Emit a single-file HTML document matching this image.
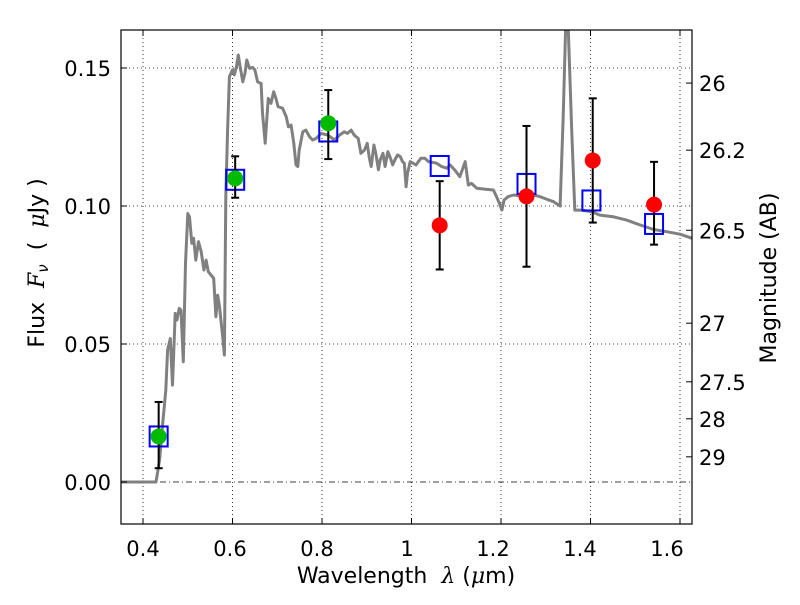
<!DOCTYPE html>
<html><head><meta charset="utf-8"><style>
body{margin:0;background:#fff;width:800px;height:600px;overflow:hidden}
text{font-family:"DejaVu Sans","Liberation Sans",sans-serif;fill:#000}
</style></head><body>
<svg id="chart" width="800" height="600" xmlns="http://www.w3.org/2000/svg">
<defs><clipPath id="clip"><rect x="121" y="30" width="571" height="494"/></clipPath></defs>
<rect width="800" height="600" fill="#fff"/>
<g id="grid"></g>
<g id="plot" clip-path="url(#clip)"></g>
<rect x="121" y="30" width="571" height="494" fill="none" stroke="#000" stroke-width="1.2"/>
<g id="axes"></g>
<text x="44" y="263" font-size="22" text-anchor="middle" transform="rotate(-90 44 263)" xml:space="preserve">Flux  <tspan font-style="italic" font-family="DejaVu Serif, serif">F</tspan><tspan font-style="italic" font-size="15" dy="4">ν</tspan><tspan dy="-4">  (  </tspan><tspan font-style="italic" font-family="DejaVu Serif, serif">μ</tspan>Jy )</text>
<text x="776" y="278" font-size="22" text-anchor="middle" transform="rotate(-90 776 278)">Magnitude (AB)</text>
<text x="406" y="583" font-size="22" text-anchor="middle" xml:space="preserve">Wavelength  <tspan font-style="italic" font-family="DejaVu Serif, serif">λ</tspan> (<tspan font-style="italic" font-family="DejaVu Serif, serif">μ</tspan>m)</text>
</svg>
<script>
const NS="http://www.w3.org/2000/svg";
// spectrum data
const specWl=[0.351,0.429,0.437,0.444,0.451,0.455,0.461,0.466,0.472,0.476,0.481,0.485,0.490,0.495,0.500,0.504,0.509,0.513,0.518,0.524,0.530,0.536,0.541,0.546,0.552,0.558,0.563,0.567,0.571,0.574,0.578,0.582,0.585,0.589,0.593,0.600,0.604,0.609,0.613,0.617,0.623,0.628,0.632,0.638,0.645,0.650,0.656,0.664,0.667,0.673,0.676,0.680,0.686,0.692,0.697,0.702,0.712,0.720,0.725,0.731,0.737,0.742,0.746,0.749,0.757,0.764,0.772,0.779,0.787,0.798,0.813,0.828,0.839,0.850,0.857,0.865,0.872,0.881,0.887,0.895,0.901,0.906,0.910,0.916,0.921,0.926,0.930,0.936,0.941,0.947,0.953,0.958,0.963,0.969,0.975,0.980,0.984,0.988,0.991,0.997,1.003,1.010,1.021,1.030,1.038,1.056,1.067,1.079,1.086,1.097,1.108,1.120,1.127,1.134,1.146,1.168,1.183,1.190,1.198,1.202,1.207,1.216,1.228,1.243,1.257,1.272,1.287,1.306,1.317,1.332,1.339,1.347,1.358,1.365,1.380,1.403,1.421,1.451,1.481,1.511,1.541,1.570,1.600,1.627];
const specFlux=[0,0,0.0080,0.0212,0.0333,0.0478,0.0520,0.0351,0.0611,0.0587,0.0629,0.0623,0.0436,0.0792,0.0973,0.0961,0.0865,0.0883,0.0804,0.0871,0.0834,0.0768,0.0804,0.0762,0.0750,0.0738,0.0599,0.0677,0.0635,0.0587,0.0526,0.0460,0.1034,0.1275,0.1469,0.1493,0.1475,0.1505,0.1547,0.1505,0.1450,0.1481,0.1529,0.1499,0.1502,0.1493,0.1450,0.1444,0.1336,0.1227,0.1299,0.1390,0.1372,0.1414,0.1390,0.1360,0.1354,0.1324,0.1287,0.1293,0.1227,0.1149,0.1143,0.1203,0.1269,0.1275,0.1251,0.1239,0.1245,0.1263,0.1257,0.1239,0.1257,0.1269,0.1263,0.1275,0.1257,0.1245,0.1191,0.1203,0.1227,0.1173,0.1143,0.1221,0.1185,0.1131,0.1167,0.1191,0.1143,0.1197,0.1173,0.1149,0.1167,0.1185,0.1179,0.1161,0.1155,0.1070,0.1118,0.1161,0.1155,0.1149,0.1173,0.1173,0.1161,0.1155,0.1143,0.1137,0.1149,0.1130,0.1106,0.1161,0.1076,0.1082,0.1064,0.1060,0.1058,0.1034,0.1003,0.0985,0.1022,0.1034,0.1040,0.1037,0.1040,0.1040,0.1034,0.1022,0.1016,0.1000,0.1324,0.1800,0.1275,0.0985,0.0985,0.0979,0.0967,0.0961,0.0949,0.0931,0.0915,0.0907,0.0898,0.0883];
// photometry
const greenWl=[0.435,0.606,0.814];
const greenFlux=[0.0165,0.110,0.130];
const greenLo=[0.005,0.103,0.117];
const greenHi=[0.029,0.118,0.142];
const redWl=[1.063,1.257,1.405,1.542];
const redFlux=[0.093,0.1035,0.1165,0.1005];
const redLo=[0.077,0.078,0.094,0.086];
const redHi=[0.109,0.129,0.139,0.116];
const modelWl=[0.435,0.606,0.814,1.063,1.257,1.402,1.542];
const modelFlux=[0.0165,0.1095,0.127,0.1145,0.108,0.102,0.0935];
const xTicks=[0.4,0.6,0.8,1.0,1.2,1.4,1.6];
const xTickLabels=["0.4","0.6","0.8","1","1.2","1.4","1.6"];
const yTicks=[0,0.05,0.10,0.15];
const yTickLabels=["0.00","0.05","0.10","0.15"];
const magTicks=[26,26.2,26.5,27,27.5,28,29];
const magTickLabels=["26","26.2","26.5","27","27.5","28","29"];

const X=v=>143+(v-0.4)*447.5;
const Y=v=>482-v*2760;
const magToFlux=m=>Math.pow(10,-0.4*(m-23.9));
function mk(tag,attrs,parent){const e=document.createElementNS(NS,tag);for(const k in attrs)e.setAttribute(k,attrs[k]);parent.appendChild(e);return e;}
const grid=document.getElementById('grid'),plot=document.getElementById('plot'),axes=document.getElementById('axes');
xTicks.forEach((t,i)=>{
  const g=mk('line',{x1:X(t),x2:X(t),y1:30,y2:524,stroke:'#000','stroke-width':0.8,'stroke-dasharray':'1,3'},grid);
  
  
  mk('line',{x1:X(t),x2:X(t),y1:524,y2:518,stroke:'#000'},axes);
  mk('line',{x1:X(t),x2:X(t),y1:30,y2:36,stroke:'#000'},axes);
  const lx=[143,230,317,407,493,580,667][i];
  const tx=mk('text',{x:lx,y:556,'font-size':21,'text-anchor':'middle'},axes);
  tx.textContent=xTickLabels[i];
  
  
});
yTicks.forEach((t,i)=>{
  const g=mk('line',{x1:121,x2:692,y1:Y(t),y2:Y(t),stroke:'#000','stroke-width':0.8,'stroke-dasharray':t===0?'6,3,1,3':'1,3'},grid);
  
  
  mk('line',{x1:121,x2:127,y1:Y(t),y2:Y(t),stroke:'#000'},axes);
  const tx=mk('text',{x:111,y:Y(t)+8,'font-size':21,'text-anchor':'end'},axes);
  tx.textContent=yTickLabels[i];
  
  
});
magTicks.forEach((m,i)=>{
  const y=Y(magToFlux(m));
  mk('line',{x1:686,x2:692,y1:y,y2:y,stroke:'#000'},axes);
  const tx=mk('text',{x:699,y:y+8,'font-size':21},axes);
  tx.textContent=magTickLabels[i];
  
  
});
const sp=mk('polyline',{points:specWl.map((w,i)=>X(w).toFixed(1)+','+Y(specFlux[i]).toFixed(1)).join(' '),fill:'none',stroke:'#808080','stroke-width':3,'stroke-linejoin':'round'},plot);


function errbar(w,lo,hi){
  const g=mk('g',{stroke:'#000','stroke-width':2},plot);
  
  
  mk('line',{x1:X(w),x2:X(w),y1:Y(lo),y2:Y(hi)},g);
  mk('line',{x1:X(w)-4,x2:X(w)+4,y1:Y(lo),y2:Y(lo)},g);
  mk('line',{x1:X(w)-4,x2:X(w)+4,y1:Y(hi),y2:Y(hi)},g);
}
modelWl.forEach((w,i)=>{
  const r=mk('rect',{x:X(w)-9,y:Y(modelFlux[i])-10,width:18,height:20,fill:'none',stroke:'#0000ff','stroke-width':2},plot);
  
  
});
greenWl.forEach((w,i)=>{
  errbar(w,greenLo[i],greenHi[i]);
  const c=mk('circle',{cx:X(w),cy:Y(greenFlux[i]),r:8,fill:'#00bb00'},plot);
  
  
});
redWl.forEach((w,i)=>{
  errbar(w,redLo[i],redHi[i]);
  const c=mk('circle',{cx:X(w),cy:Y(redFlux[i]),r:8,fill:'#ff0000'},plot);
  
  
});
</script>
</body></html>
